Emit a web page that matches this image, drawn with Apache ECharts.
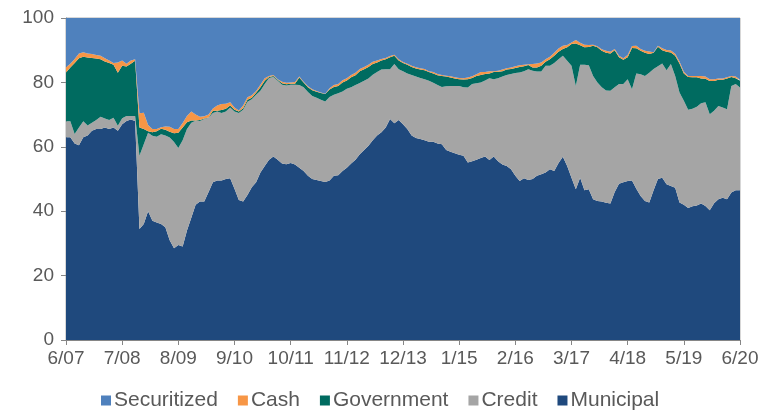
<!DOCTYPE html>
<html>
<head>
<meta charset="utf-8">
<script src="https://cdn.jsdelivr.net/npm/echarts@6/dist/echarts.min.js"></script>
<style>
  html, body { margin: 0; padding: 0; background: #fff; }
  #chart { width: 772px; height: 415px; }
</style>
</head>
<body>
<div id="chart"></div>
<script>
// monthly, 6/07 .. 6/20 (157 months)
const startYear = 2007;
const startMonth = 6;
const monthCount = 157;

// cumulative levels (% of portfolio, top edge of each band)
const municipalTop = [
  63, 63, 61, 60.5, 63, 63.5, 65, 65.5, 65.5, 66, 65.5, 66, 65, 67, 68, 68.5, 68,
  34.5, 36, 40, 37, 36.5, 36, 35, 31, 28.5, 29.5, 29, 34, 38, 42, 43, 43, 46, 49,
  49.5, 49.5, 50, 50.2, 47, 43.5, 43, 45, 47.4, 49, 52, 54, 56, 57, 56, 54.8, 54.6,
  55, 54.5, 53.5, 52.5, 51, 50, 49.7, 49.4, 49.1, 49.5, 51, 51.2, 52.5, 53.5, 54.8,
  56, 57.7, 59, 60.3, 62, 63.5, 64.5, 66, 68.6, 67.3, 68.3, 67, 65.5, 63.5, 62.7,
  62.4, 62, 61.6, 61.6, 61, 60.8, 59, 58.5, 58, 57.5, 57.2, 55.1, 55.5, 56, 56.5,
  57, 55.9, 57, 55.5, 54.5, 54, 53, 51, 49.4, 50.2, 49.7, 50, 51, 51.5, 52, 53,
  52.5, 55, 56.9, 54, 50.4, 46.8, 50.4, 46.5, 46.8, 43.7, 43.2, 43, 42.6, 42.4, 46,
  48.5, 49, 49.4, 49.5, 47, 44.7, 43.2, 42.7, 46.5, 50, 50.4, 48.4, 47.8, 47.3,
  42.7, 42, 41, 41.5, 41.8, 42.4, 41.6, 40.3, 42.5, 43.7, 44.2, 43.7, 45.8, 46.5,
  46.5
];
const creditTop = [
  67.9, 67.9, 64, 66, 67.9, 66.6, 67.5, 68.3, 69.3, 68.8, 68.3, 69, 66.5, 68.9,
  69.6, 69.6, 69.6, 57.2, 60.8, 64.4, 63.4, 63.1, 63.9, 63.5, 62.9, 61.5, 59.6, 62,
  65.5, 67.5, 68.1, 68, 68.6, 69, 70.5, 71, 70.5, 71, 72.2, 71, 70.5, 71.5, 74,
  74.8, 76.2, 77.4, 79.5, 81.4, 81.7, 80.5, 79.3, 79, 79.3, 79.3, 79.2, 78.5, 77,
  75.8, 75.2, 74.6, 74.1, 75.5, 76.2, 76.6, 77.2, 78, 78.5, 79.2, 79.8, 80.5, 81.2,
  82.4, 83.2, 84, 84.1, 84.1, 85.7, 84.1, 83.5, 82.8, 82.3, 81.8, 81.4, 81, 80.5,
  79.9, 79.2, 78.6, 78.8, 78.9, 78.9, 78.9, 78.5, 78.4, 79.5, 79.7, 80, 80.6, 81.3,
  81, 81.3, 81.8, 82.3, 82.6, 82.9, 83.1, 83.5, 84.1, 83.6, 83.4, 83.4, 85.2, 85.2,
  86, 87.2, 88.3, 86.7, 85.2, 78.9, 85.5, 85.5, 85.3, 82, 80, 78.5, 77.5, 77.4,
  78.5, 79.5, 79.5, 81, 77.9, 82.8, 82.5, 82, 83, 84.2, 85, 85.9, 83.8, 85.7, 82,
  76.9, 74.3, 71.5, 71.8, 72.4, 73.5, 73.8, 70.1, 71.2, 72.7, 72.2, 71.7, 78.9,
  79.5, 78.4
];
const governmentTop = [
  83.1, 84.6, 86, 87.5, 88, 87.7, 87.6, 87.4, 87.2, 86.5, 86, 85.5, 83, 85.2, 84.9,
  85.8, 86.7, 66, 65.5, 64.8, 64.5, 64.8, 65.6, 65.3, 64.7, 64.2, 64.4, 66, 67.6,
  68.2, 68.2, 68.3, 68.8, 69.1, 71.2, 71.2, 71.4, 71.8, 72.8, 71.5, 71, 72, 74.6,
  75.2, 76.8, 78.5, 80.5, 81.7, 82, 80.8, 79.7, 79.4, 79.6, 79.6, 81.5, 80, 78.5,
  77.6, 77.1, 76.7, 76.4, 77.8, 78.6, 78.9, 80, 80.6, 81.6, 82.2, 83.5, 84.1, 84.8,
  85.7, 86.2, 86.8, 87.2, 87.8, 88.3, 86.8, 86, 85.5, 84.8, 84.3, 84, 83.8, 83.2,
  82.8, 82.2, 82, 81.8, 81.5, 81.2, 81, 80.9, 81, 81.4, 82, 82.3, 82.6, 82.8, 83.2,
  83.3, 83.5, 84, 84.2, 84.5, 84.8, 85, 85.4, 84.6, 84.6, 85.2, 86.4, 87.2, 88.3,
  89.5, 90.4, 90.9, 91.9, 92.1, 91.5, 90.9, 91, 91.4, 90.9, 89.8, 89.2, 89, 90,
  87.8, 87, 87.8, 90.7, 90.6, 89.8, 89.2, 88.8, 89.2, 91.1, 90, 89.5, 89.3, 88.3,
  85.9, 82.8, 81.7, 81.6, 81.6, 81.2, 81.1, 80.4, 80.4, 80.8, 80.8, 81.2, 81.7,
  81.3, 80.5
];
const cashTop = [
  84.7, 85.8, 87.3, 89, 89.4, 89, 88.8, 88.5, 88.3, 87.5, 86.8, 86, 86.2, 86.8,
  85.8, 86.8, 87.2, 70.4, 70.6, 66.8, 65.5, 65.5, 66.1, 66.3, 66.2, 65.5, 65.5,
  67.4, 69.6, 71, 70, 69.3, 69.5, 70, 71.9, 72.8, 73.3, 73.4, 73.8, 72.2, 71.3,
  72.8, 75.4, 76, 77.3, 79.3, 81.3, 82, 82.3, 81, 80.2, 79.9, 80, 80.1, 81.8, 80.2,
  78.8, 77.9, 77.3, 76.9, 76.5, 78.2, 79.2, 79.5, 80.7, 81.3, 82.3, 83, 84.2, 84.8,
  85.5, 86.4, 86.8, 87.3, 87.6, 88.2, 88.6, 87.2, 86.3, 85.8, 85.2, 84.7, 84.4,
  84.2, 83.5, 83.2, 82.6, 82.3, 82.1, 81.9, 81.6, 81.4, 81.3, 81.5, 81.9, 82.5,
  83.2, 83.2, 83.5, 83.5, 83.6, 84, 84.4, 84.6, 85, 85.3, 85.5, 85.6, 85.7, 85.9,
  86.2, 87.2, 88, 89.2, 90.5, 91.4, 91.6, 92.4, 93.2, 92.3, 91.7, 91.6, 91.7, 91.2,
  90.3, 89.8, 89.5, 90.4, 88.3, 87.5, 88.5, 91.3, 91.4, 90.4, 89.8, 89.6, 89.4,
  91.4, 90.6, 90.1, 89.9, 88.9, 86.5, 83.3, 82, 82, 82, 82, 81.8, 81, 81, 81.2,
  81.2, 81.6, 82, 81.8, 80.8
];

const months = [];
for (let i = 0; i < monthCount; i++) {
  const m = (startMonth - 1 + i) % 12 + 1;
  const y = startYear + Math.floor((startMonth - 1 + i) / 12);
  months.push(m + "/" + String(y % 100).padStart(2, "0"));
}

const round = (v) => Math.round(v * 10) / 10;
const municipal = municipalTop.map(round);
const credit = creditTop.map((v, i) => round(v - municipalTop[i]));
const government = governmentTop.map((v, i) => round(v - creditTop[i]));
const cash = cashTop.map((v, i) => round(v - governmentTop[i]));
const securitized = cashTop.map((v) => round(100 - v));

const textColor = "#595959";
const axisColor = "#868686";
const font = "'Liberation Sans', Arial, sans-serif";

const area = (name, data, color) => ({
  name,
  type: "line",
  stack: "total",
  data,
  symbol: "none",
  lineStyle: { width: 0 },
  areaStyle: { color, opacity: 1 },
  itemStyle: { color },
  animation: false,
});

const chart = echarts.init(document.getElementById("chart"));
chart.setOption({
  animation: false,
  textStyle: { fontFamily: font },
  grid: {
    left: 66,
    right: 32,
    top: 18,
    bottom: 75,
    show: true,
    borderColor: "#b0b0b0",
    borderWidth: 1,
  },
  legend: {
    bottom: -1,
    left: 96,
    icon: "rect",
    itemWidth: 10,
    itemHeight: 10,
    itemGap: 20,
    textStyle: { color: textColor, fontSize: 21, fontFamily: font, padding: [0, 0, 0, -2] },
    data: ["Securitized", "Cash", "Government", "Credit", "Municipal"],
  },
  xAxis: {
    type: "category",
    data: months,
    boundaryGap: false,
    axisLine: { lineStyle: { color: axisColor, width: 1 } },
    axisTick: { interval: 12, length: 5, lineStyle: { color: axisColor } },
    axisLabel: { interval: 12, color: textColor, fontSize: 19, margin: 9 },
    splitLine: { show: false },
  },
  yAxis: {
    type: "value",
    min: 0,
    max: 100,
    interval: 20,
    axisLine: { show: true, lineStyle: { color: axisColor, width: 1 } },
    axisTick: { show: true, length: 5, lineStyle: { color: axisColor } },
    axisLabel: { color: textColor, fontSize: 19, margin: 12 },
    splitLine: { show: false },
  },
  series: [
    area("Municipal", municipal, "#1F497D"),
    area("Credit", credit, "#A5A5A5"),
    area("Government", government, "#006B60"),
    area("Cash", cash, "#F79646"),
    area("Securitized", securitized, "#4F81BD"),
  ],
});
</script>
</body>
</html>
